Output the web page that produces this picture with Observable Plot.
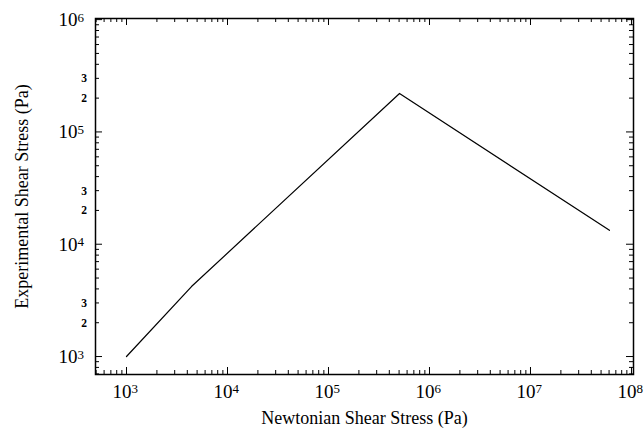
<!DOCTYPE html>
<html>
<head>
<meta charset="utf-8">
<script src="https://cdn.jsdelivr.net/npm/d3@7"></script>
<script src="https://cdn.jsdelivr.net/npm/@observablehq/plot@0.6"></script>
<style>
  html, body { margin: 0; padding: 0; background: #fff; }
  #chart { width: 644px; height: 433px; }
</style>
</head>
<body>
<div id="chart"></div>
<script>
// ---- data ----
const newtonianStress = [1e3, 4.4e3, 5.05e5, 6.05e7];
const experimentalStress = [1e3, 4.2e3, 2.2e5, 1.33e4];

// ---- axis tick values ----
const xDecades = [1e3, 1e4, 1e5, 1e6, 1e7, 1e8];
const yDecades = [1e3, 1e4, 1e5, 1e6];
const yMinorLabelValues = [2e3, 3e3, 2e4, 3e4, 2e5, 3e5];
const yMinorLabelTexts = ["2", "3", "2", "3", "2", "3"];
const xTitle = "Newtonian Shear Stress (Pa)";
const yTitle = "Experimental Shear Stress (Pa)";

const xDomain = [Math.pow(10, 2.693), Math.pow(10, 8.02)];
const yDomain = [Math.pow(10, 2.84), Math.pow(10, 6.01)];

function minorTicks(domain) {
  const out = [];
  for (let e = Math.floor(Math.log10(domain[0])); e <= Math.ceil(Math.log10(domain[1])); e++) {
    for (let m = 2; m <= 9; m++) {
      const v = m * Math.pow(10, e);
      if (v > domain[0] && v < domain[1]) out.push(v);
    }
  }
  return out;
}
const xMinor = minorTicks(xDomain);
const yMinor = minorTicks(yDomain);

const data = newtonianStress.map((x, i) => ({x, y: experimentalStress[i]}));
const yMinorLabels = yMinorLabelValues.map((v, i) => ({v, t: yMinorLabelTexts[i]}));

const W = 644, H = 433;
const mL = 95, mR = 11, mT = 18, mB = 59;
const fw = W - mL - mR, fh = H - mT - mB;
const majorLen = 7, minorLen = 4;
const exp = d => String(Math.round(Math.log10(d)));

const chart = Plot.plot({
  width: W,
  height: H,
  marginLeft: mL,
  marginRight: mR,
  marginTop: mT,
  marginBottom: mB,
  style: {fontFamily: "'Liberation Serif', 'Times New Roman', serif", background: "#fff", color: "#000"},
  x: {type: "log", domain: xDomain, axis: null},
  y: {type: "log", domain: yDomain, axis: null},
  marks: [
    // inward ticks: bottom / top
    Plot.tickX(xDecades, {x: d => d, insetTop: fh - majorLen, stroke: "#000", strokeWidth: 1}),
    Plot.tickX(xMinor, {x: d => d, insetTop: fh - minorLen, stroke: "#000", strokeWidth: 1}),
    Plot.tickX(xDecades, {x: d => d, insetBottom: fh - majorLen, stroke: "#000", strokeWidth: 1}),
    Plot.tickX(xMinor, {x: d => d, insetBottom: fh - minorLen, stroke: "#000", strokeWidth: 1}),
    // inward ticks: left / right
    Plot.tickY(yDecades, {y: d => d, insetRight: fw - majorLen, stroke: "#000", strokeWidth: 1}),
    Plot.tickY(yMinor, {y: d => d, insetRight: fw - minorLen, stroke: "#000", strokeWidth: 1}),
    Plot.tickY(yDecades, {y: d => d, insetLeft: fw - majorLen, stroke: "#000", strokeWidth: 1}),
    Plot.tickY(yMinor, {y: d => d, insetLeft: fw - minorLen, stroke: "#000", strokeWidth: 1}),
    // x tick labels 10^n
    Plot.text(xDecades, {x: d => d, text: () => "10", frameAnchor: "bottom", textAnchor: "end", lineAnchor: "bottom", dx: 5, dy: 23, fontSize: 19, fill: "#000"}),
    Plot.text(xDecades, {x: d => d, text: exp, frameAnchor: "bottom", textAnchor: "start", lineAnchor: "bottom", dx: 5, dy: 18, fontSize: 13, fill: "#000"}),
    // y tick labels 10^n
    Plot.text(yDecades, {y: d => d, text: () => "10", frameAnchor: "left", textAnchor: "end", lineAnchor: "bottom", dx: -18, dy: 6.5, fontSize: 19, fill: "#000"}),
    Plot.text(yDecades, {y: d => d, text: exp, frameAnchor: "left", textAnchor: "start", lineAnchor: "bottom", dx: -18, dy: 2, fontSize: 13, fill: "#000"}),
    // y minor labels 2, 3
    Plot.text(yMinorLabels, {y: "v", text: "t", frameAnchor: "left", textAnchor: "end", lineAnchor: "bottom", dx: -8.5, dy: 4, fontSize: 11.5, fontWeight: "bold", fill: "#000"}),
    // axis titles
    Plot.text([xTitle], {text: d => d, frameAnchor: "bottom", textAnchor: "middle", lineAnchor: "bottom", dy: 49, fontSize: 18, fill: "#000"}),
    Plot.text([yTitle], {text: d => d, frameAnchor: "left", textAnchor: "middle", rotate: -90, lineAnchor: "middle", dx: -73, fontSize: 18, fill: "#000"}),
    // data line
    Plot.line(data, {x: "x", y: "y", stroke: "#000", strokeWidth: 1.2}),
    Plot.frame({stroke: "#000", strokeWidth: 1.5})
  ]
});
document.getElementById("chart").appendChild(chart);
</script>
</body>
</html>
